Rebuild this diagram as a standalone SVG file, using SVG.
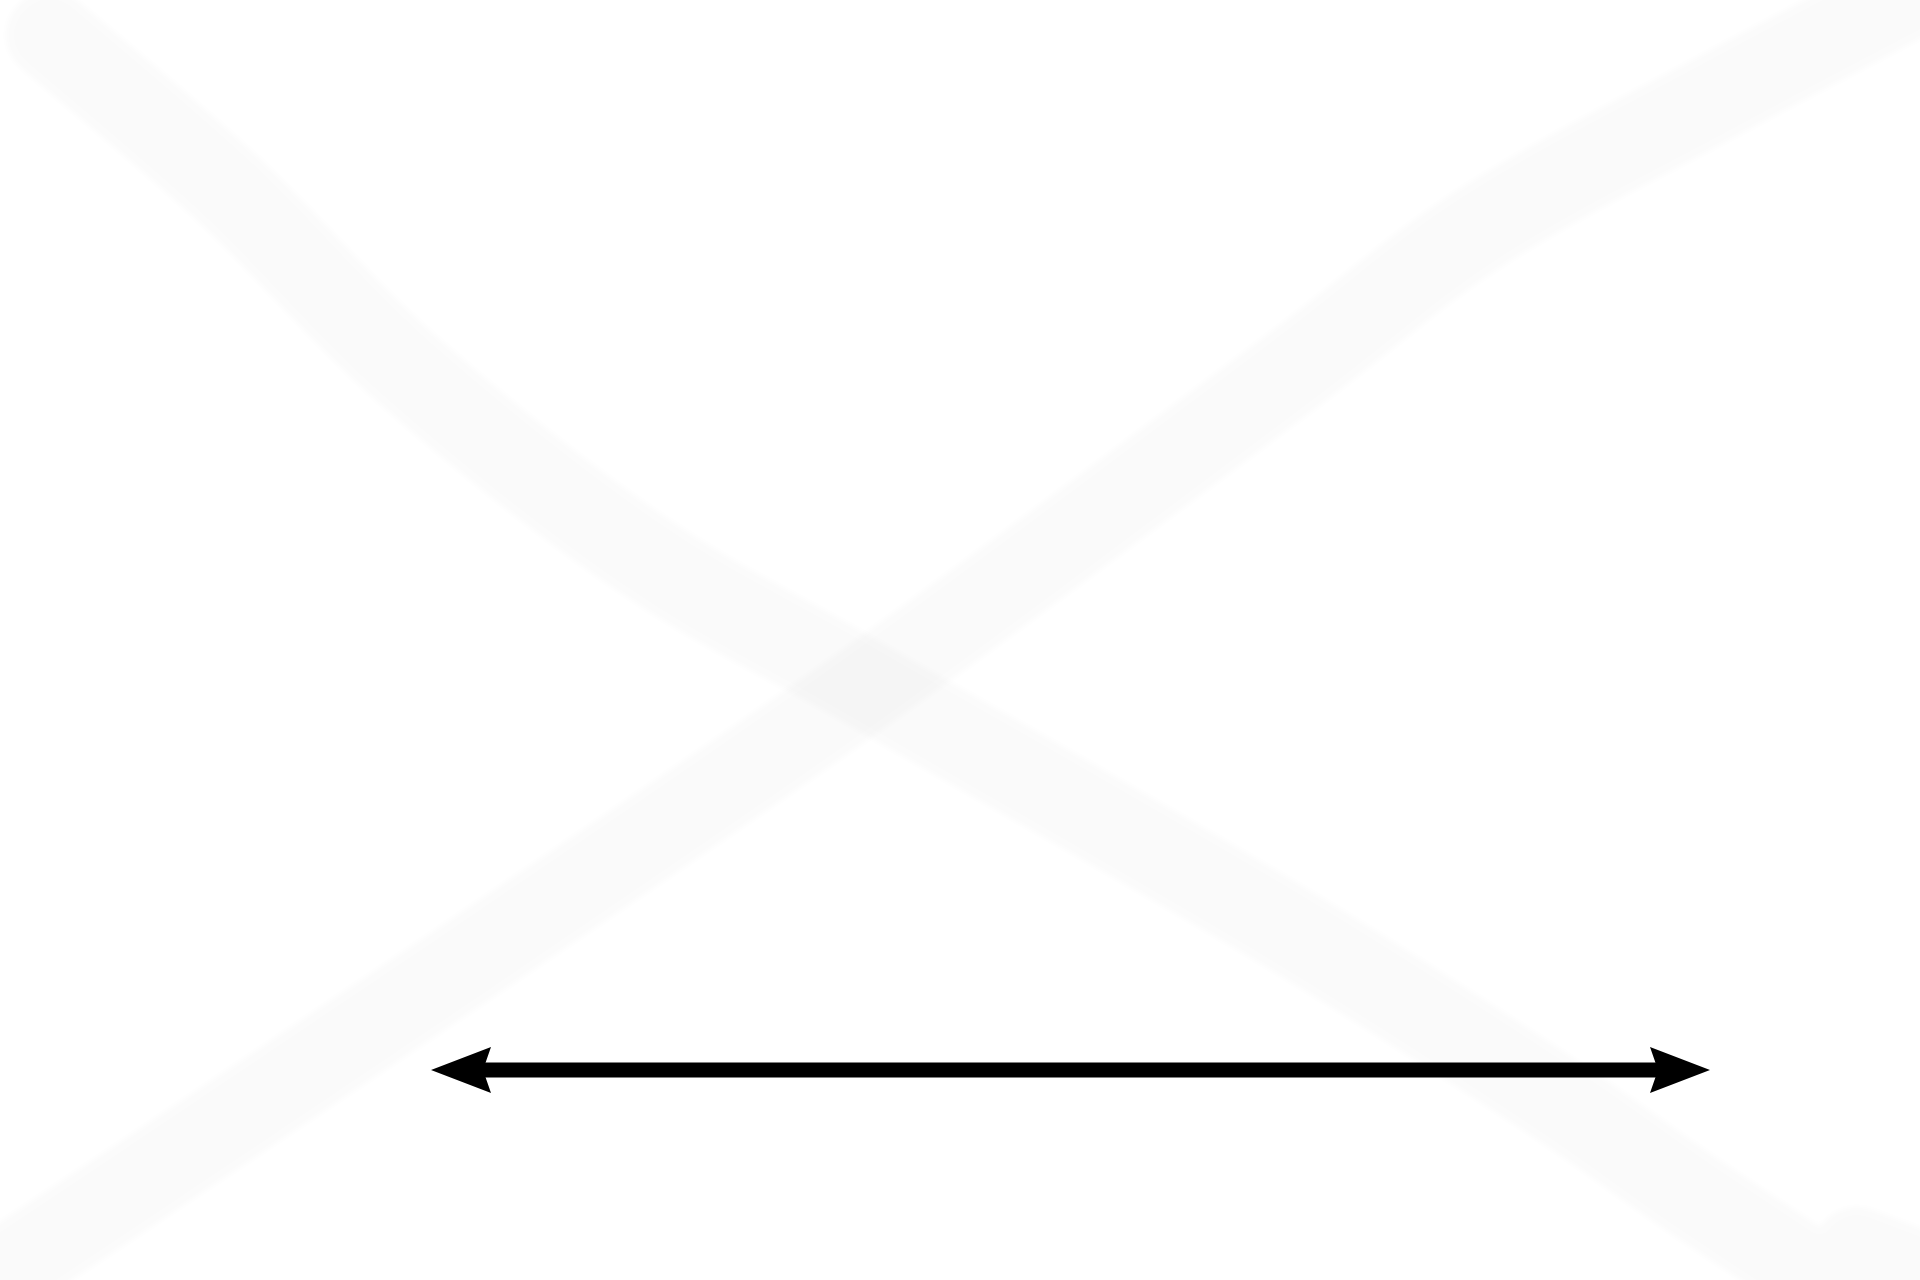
<svg xmlns="http://www.w3.org/2000/svg" width="1920" height="1280" viewBox="0 0 1920 1280">
  <defs>
    <style>
      .band { fill: none; stroke: #000000; stroke-width: 88; stroke-linecap: round; stroke-linejoin: round; }
      .faint { opacity: 0.017; }
      .conn { fill: none; stroke: #000000; stroke-width: 15; stroke-linecap: butt; }
    </style>
    <filter id="soft" filterUnits="userSpaceOnUse" x="-100" y="-100" width="2120" height="1480">
      <feGaussianBlur stdDeviation="3"/>
    </filter>
    <marker id="head" markerUnits="userSpaceOnUse" markerWidth="60" markerHeight="46" refX="8" refY="23" orient="auto-start-reverse" overflow="visible">
      <path d="M0,0 L60,23 L0,46 L8,23 Z" fill="#000000"/>
    </marker>
  </defs>
  <rect x="0" y="0" width="1920" height="1280" fill="#ffffff"/>
  <g id="band-a" class="faint" filter="url(#soft)">
    <path class="band" d="M50,35 C79.8,60.8 169.3,134.2 229,190 C288.7,245.8 339.5,309.5 408,370 C476.5,430.5 563.2,500.3 640,553 C716.8,605.7 762.3,624.2 869,686 C975.7,747.8 1167.3,856.3 1280,924 C1392.7,991.7 1475,1046 1545,1092 C1615,1138 1637.5,1157.8 1700,1200 C1762.5,1242.2 1883.3,1320.8 1920,1345"/>
    <path class="band" d="M1857,1251 L1960,1290"/>
  </g>
  <g id="band-b" class="faint" filter="url(#soft)">
    <path class="band" d="M-30,1295 C2.2,1273.5 76.3,1224.2 163,1166 C249.7,1107.8 372.2,1026.3 490,946 C607.8,865.7 738.3,778.3 870,684 C1001.7,589.7 1178.3,456 1280,380 C1381.7,304 1406.7,275.5 1480,228 C1553.3,180.5 1640,138.3 1720,95 C1800,51.7 1920,-10.8 1960,-32"/>
  </g>
  <g id="connectors">
    <line class="conn" x1="483" y1="1070" x2="1658" y2="1070" marker-start="url(#head)" marker-end="url(#head)"/>
  </g>
</svg>
